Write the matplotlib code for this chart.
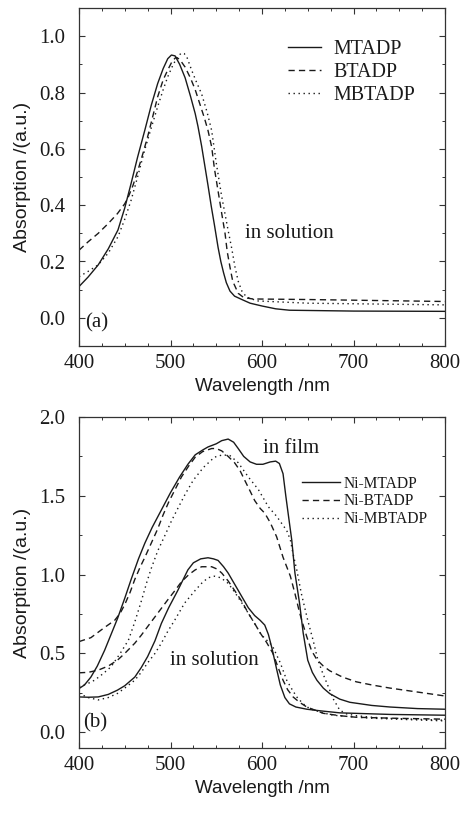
import numpy as np
import matplotlib
matplotlib.use("Agg")
import matplotlib.pyplot as plt
from matplotlib.ticker import MultipleLocator, FormatStrFormatter

# ---------------- Panel (a): in solution ----------------
a_mtadp_x = [400, 410, 421, 432, 442.6, 450, 457, 464, 472, 479, 486, 492, 497, 501, 505, 510, 516, 522, 527, 530, 534, 538, 541, 544.6, 548, 552, 555, 558, 561, 565, 570, 578, 587, 600, 615, 630, 700, 800]
a_mtadp_y = [0.111, 0.145, 0.188, 0.245, 0.312, 0.39, 0.478, 0.57, 0.667, 0.755, 0.832, 0.885, 0.92, 0.933, 0.93, 0.90, 0.852, 0.785, 0.725, 0.68, 0.61, 0.53, 0.47, 0.395, 0.33, 0.25, 0.20, 0.16, 0.125, 0.095, 0.077, 0.065, 0.052, 0.042, 0.032, 0.027, 0.024, 0.023]

a_btadp_x = [400, 410, 421, 432, 442, 450, 454, 459, 464.5, 470, 475, 481, 486, 492, 497, 502, 506, 510, 516, 522, 527, 532, 537, 541, 545, 548, 552, 556, 559.6, 562, 565, 568, 574, 580, 590, 650, 800]
a_btadp_y = [0.24, 0.27, 0.30, 0.335, 0.37, 0.405, 0.43, 0.47, 0.525, 0.585, 0.643, 0.72, 0.785, 0.845, 0.88, 0.912, 0.925, 0.918, 0.89, 0.85, 0.81, 0.76, 0.71, 0.665, 0.607, 0.53, 0.45, 0.37, 0.30, 0.235, 0.18, 0.13, 0.087, 0.072, 0.067, 0.065, 0.058]

a_mbtadp_x = [400, 410, 421, 432, 442.6, 450, 457, 464, 471.8, 479, 486, 492, 497, 503, 508, 511.7, 515, 518, 523, 528, 534, 540, 545, 550, 553, 556, 559.5, 563, 567, 570.5, 574, 578, 583, 595, 650, 800]
a_mbtadp_y = [0.146, 0.165, 0.188, 0.23, 0.288, 0.35, 0.418, 0.50, 0.596, 0.675, 0.75, 0.81, 0.856, 0.90, 0.927, 0.94, 0.938, 0.925, 0.88, 0.84, 0.795, 0.73, 0.665, 0.55, 0.49, 0.43, 0.37, 0.31, 0.245, 0.18, 0.13, 0.095, 0.074, 0.06, 0.052, 0.046]

# ---------------- Panel (b): film ----------------
bf_mtadp_x = [400, 406, 413, 420, 428, 435, 442, 450, 457, 465, 472, 480, 490, 500, 510, 519, 527, 535, 541, 550, 556, 563, 569, 574, 580, 587, 594, 601, 609, 615, 619, 623, 626, 629, 632.5, 636, 641, 645, 650, 655, 660, 667, 674, 685, 696, 720, 740, 770, 800]
bf_mtadp_y = [0.277, 0.30, 0.35, 0.42, 0.52, 0.62, 0.72, 0.85, 0.97, 1.10, 1.20, 1.30, 1.41, 1.52, 1.62, 1.70, 1.76, 1.79, 1.81, 1.83, 1.85, 1.86, 1.84, 1.80, 1.75, 1.715, 1.70, 1.70, 1.715, 1.72, 1.705, 1.64, 1.50, 1.37, 1.22, 1.01, 0.82, 0.63, 0.457, 0.38, 0.33, 0.28, 0.245, 0.21, 0.19, 0.17, 0.16, 0.15, 0.146]

bf_btadp_x = [400, 413, 428, 439, 445, 450, 456, 461, 467, 472, 479, 486, 492, 498, 505, 512, 520, 527, 535, 545, 550, 556, 563, 570, 576, 581, 587, 592, 598, 603, 609, 616, 623, 631, 636, 641, 645, 649, 654, 660, 667, 674, 688, 703, 720, 740, 770, 800]
bf_btadp_y = [0.575, 0.60, 0.665, 0.71, 0.755, 0.81, 0.89, 0.97, 1.05, 1.11, 1.20, 1.29, 1.38, 1.46, 1.54, 1.62, 1.69, 1.745, 1.78, 1.80, 1.80, 1.785, 1.75, 1.71, 1.66, 1.60, 1.53, 1.47, 1.42, 1.39, 1.33, 1.24, 1.11, 0.99, 0.88, 0.76, 0.68, 0.605, 0.52, 0.46, 0.42, 0.39, 0.35, 0.32, 0.30, 0.28, 0.255, 0.23]

bf_mbtadp_x = [400, 410, 417, 426, 435, 445, 454, 461, 468, 474, 479, 486, 494, 501, 508, 516, 525, 536, 548, 557, 565, 574, 585, 596, 607, 616, 627, 631, 634, 638, 643, 650, 656, 661, 666, 671, 678, 685, 693, 703, 720, 740, 800]
bf_mbtadp_y = [0.29, 0.31, 0.33, 0.37, 0.415, 0.50, 0.584, 0.70, 0.83, 0.95, 1.04, 1.15, 1.25, 1.34, 1.42, 1.51, 1.60, 1.68, 1.745, 1.76, 1.755, 1.71, 1.62, 1.54, 1.43, 1.37, 1.28, 1.22, 1.13, 1.03, 0.88, 0.71, 0.58, 0.46, 0.38, 0.31, 0.21, 0.14, 0.115, 0.105, 0.095, 0.088, 0.076]

# ---------------- Panel (b): solution ----------------
bs_mtadp_x = [400, 410, 421, 432, 442, 450, 461, 468, 475, 483, 490, 498, 508, 519, 525, 533, 541, 547, 552, 558, 563, 570, 578, 585, 592, 598, 603, 607, 611, 616, 620, 625, 630, 637, 649, 665, 685, 740, 800]
bs_mtadp_y = [0.224, 0.222, 0.224, 0.24, 0.267, 0.295, 0.35, 0.41, 0.48, 0.58, 0.69, 0.79, 0.90, 1.03, 1.075, 1.10, 1.107, 1.10, 1.09, 1.05, 1.01, 0.94, 0.86, 0.79, 0.74, 0.71, 0.68, 0.62, 0.53, 0.40, 0.30, 0.22, 0.18, 0.16, 0.146, 0.135, 0.123, 0.113, 0.108]

bs_btadp_x = [400, 410, 421, 432, 442, 450, 461, 468, 475, 486, 497, 505, 512, 520, 527, 534, 545, 551, 556, 563, 570, 578, 585, 592, 598, 605, 612, 617, 623, 628, 634, 641, 649, 658, 667, 685, 703, 750, 800]
bs_btadp_y = [0.377, 0.38, 0.394, 0.42, 0.457, 0.50, 0.565, 0.615, 0.67, 0.755, 0.84, 0.90, 0.955, 1.0, 1.03, 1.05, 1.05, 1.035, 1.01, 0.96, 0.90, 0.83, 0.755, 0.69, 0.63, 0.57, 0.50, 0.42, 0.33, 0.27, 0.224, 0.19, 0.16, 0.14, 0.12, 0.105, 0.095, 0.088, 0.083]

bs_mbtadp_x = [400, 410, 421, 432, 442, 450, 461, 468, 475, 483, 490, 497, 504.5, 515.5, 527, 534, 541, 548, 555, 563, 570, 578, 585, 592, 598, 603, 608, 612, 616, 620, 627, 633, 638, 645, 652, 665, 678, 700, 720, 760, 800]
bs_mbtadp_y = [0.246, 0.22, 0.205, 0.22, 0.246, 0.28, 0.33, 0.38, 0.44, 0.50, 0.565, 0.64, 0.71, 0.82, 0.90, 0.945, 0.98, 0.99, 0.98, 0.945, 0.89, 0.82, 0.755, 0.69, 0.63, 0.595, 0.57, 0.54, 0.49, 0.44, 0.33, 0.27, 0.224, 0.18, 0.15, 0.125, 0.108, 0.097, 0.089, 0.08, 0.072]

labels_a = ["MTADP", "BTADP", "MBTADP"]
labels_b = ["Ni-MTADP", "Ni-BTADP", "Ni-MBTADP"]

serif = ["Liberation Serif", "DejaVu Serif"]
sans = ["Liberation Sans", "DejaVu Sans"]
plt.rcParams["font.family"] = serif

INK = "#1a1a1a"
styles = [dict(ls="-"), dict(ls=(0, (4.5, 3))), dict(ls=(0, (1, 2.6)))]
LW = 1.0

fig = plt.figure(figsize=(4.65, 8.13), dpi=100)
axA = fig.add_axes([79/465, 1-346/813, 366/465, 338/813])
axB = fig.add_axes([79/465, 1-748/813, 366/465, 331/813])

def style_axes(ax, ymaj, ymin):
    ax.set_xlim(400, 800)
    ax.xaxis.set_major_locator(MultipleLocator(100))
    ax.xaxis.set_minor_locator(MultipleLocator(25))
    ax.yaxis.set_major_locator(MultipleLocator(ymaj))
    ax.yaxis.set_minor_locator(MultipleLocator(ymin))
    ax.yaxis.set_major_formatter(FormatStrFormatter("%.1f"))
    ax.tick_params(which="both", direction="in", top=True, right=True, color="#333333")
    ax.tick_params(which="major", length=4, width=0.8, labelsize=15, labelcolor=INK)
    ax.tick_params(which="minor", length=2, width=0.7)
    ax.tick_params(axis="x", which="major", pad=6)
    ax.tick_params(axis="y", which="major", pad=10)
    for s in ax.spines.values():
        s.set_color("#333333")
        s.set_linewidth(0.9)
    ax.set_xlabel("Wavelength /nm", family=sans, fontsize=13.5, color=INK, labelpad=3)
    ax.set_ylabel("Absorption /(a.u.)", family=sans, fontsize=14, color=INK, labelpad=6)

# Panel (a)
for (x, y), lab, st in zip([(a_mtadp_x, a_mtadp_y), (a_btadp_x, a_btadp_y), (a_mbtadp_x, a_mbtadp_y)], labels_a, styles):
    axA.plot(x, y, color=INK, lw=LW, label=lab, **st)
axA.set_ylim(-0.1, 1.1)
style_axes(axA, 0.2, 0.1)
leg = axA.legend(loc="upper left", bbox_to_anchor=(0.571, 0.905), frameon=False, fontsize=14.4,
                 handlelength=1.65, handletextpad=0.6, labelspacing=0.2, borderpad=0, borderaxespad=0)
for t in leg.get_texts():
    t.set_color(INK)
axA.text(581, 0.30, "in solution", fontsize=15, color=INK, va="center", ha="left")
axA.text(419.5, -0.018, "(a)", fontsize=15, color=INK, va="center", ha="center")

# Panel (b)
film = [(bf_mtadp_x, bf_mtadp_y), (bf_btadp_x, bf_btadp_y), (bf_mbtadp_x, bf_mbtadp_y)]
sol = [(bs_mtadp_x, bs_mtadp_y), (bs_btadp_x, bs_btadp_y), (bs_mbtadp_x, bs_mbtadp_y)]
for (x, y), lab, st in zip(film, labels_b, styles):
    axB.plot(x, y, color=INK, lw=LW, label=lab, **st)
for (x, y), st in zip(sol, styles):
    axB.plot(x, y, color=INK, lw=LW, **st)
axB.set_ylim(-0.1, 2.0)
style_axes(axB, 0.5, 0.25)
legB = axB.legend(loc="upper left", bbox_to_anchor=(0.609, 0.822), frameon=False, fontsize=11.2,
                  handlelength=2.45, handletextpad=0.25, labelspacing=0.1, borderpad=0, borderaxespad=0)
for t in legB.get_texts():
    t.set_color(INK)
axB.text(601, 1.80, "in film", fontsize=15, color=INK, va="center", ha="left")
axB.text(499.5, 0.457, "in solution", fontsize=15, color=INK, va="center", ha="left")
axB.text(417.5, 0.057, "(b)", fontsize=15, color=INK, va="center", ha="center")

fig.savefig("out.png", dpi=100)
